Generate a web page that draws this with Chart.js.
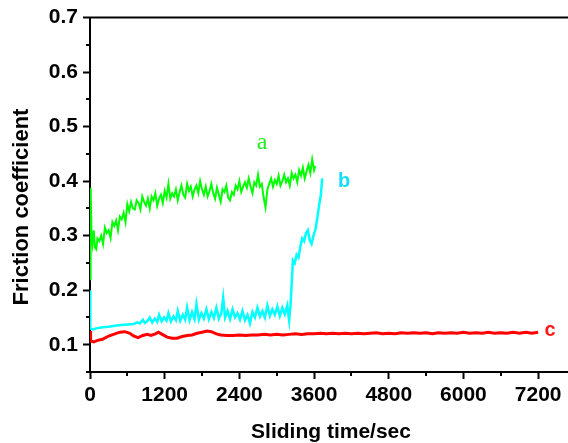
<!DOCTYPE html>
<html>
<head>
<meta charset="utf-8">
<script src="https://cdn.jsdelivr.net/npm/chart.js@4/dist/chart.umd.min.js"></script>
<style>
  body { margin: 0; background: #fff; }
  .chart-container { width: 568px; height: 443px; }
</style>
</head>
<body>
<div class="chart-container">
  <canvas id="chart" width="568" height="443"></canvas>
</div>
<script>
// curve a (green)
const aTime = [0, 10, 25, 40, 60, 80, 100, 120, 150, 180, 210, 240, 270, 300, 330, 360, 390, 420, 450, 480,
  510, 540, 570, 600, 630, 660, 690, 720, 750, 780, 810, 840, 870, 900, 930, 960, 990, 1020, 1050, 1080,
  1110, 1140, 1170, 1200, 1230, 1260, 1290, 1320, 1350, 1380, 1410, 1440, 1470, 1500, 1530, 1560, 1590, 1620, 1650, 1680,
  1710, 1740, 1770, 1800, 1830, 1860, 1890, 1920, 1950, 1980, 2010, 2040, 2070, 2100, 2130, 2160, 2190, 2220, 2250, 2280,
  2310, 2340, 2370, 2400, 2430, 2460, 2490, 2520, 2550, 2580, 2610, 2640, 2670, 2700, 2730, 2760, 2790, 2820, 2850, 2880,
  2910, 2940, 2970, 3000, 3030, 3060, 3090, 3120, 3150, 3180, 3210, 3240, 3270, 3300, 3330, 3360, 3390, 3420, 3450, 3480,
  3510, 3540, 3570, 3600, 3620];
const aFriction = [0.22, 0.388, 0.30, 0.285, 0.31, 0.278, 0.275, 0.295, 0.29, 0.30, 0.285, 0.315, 0.305, 0.31, 0.296, 0.325, 0.318, 0.328, 0.31, 0.335,
  0.33, 0.342, 0.325, 0.358, 0.345, 0.362, 0.35, 0.348, 0.365, 0.36, 0.348, 0.372, 0.362, 0.355, 0.368, 0.35, 0.372, 0.365, 0.378, 0.355,
  0.368, 0.375, 0.36, 0.382, 0.37, 0.395, 0.368, 0.378, 0.372, 0.385, 0.365, 0.38, 0.392, 0.375, 0.37, 0.395, 0.382, 0.39, 0.372, 0.385,
  0.392, 0.378, 0.40, 0.385, 0.375, 0.39, 0.372, 0.382, 0.395, 0.378, 0.368, 0.388, 0.375, 0.362, 0.385, 0.38, 0.392, 0.37, 0.365, 0.38,
  0.375, 0.392, 0.385, 0.40, 0.38, 0.39, 0.398, 0.388, 0.405, 0.39, 0.378, 0.398, 0.392, 0.412, 0.39, 0.395, 0.37, 0.352, 0.385, 0.395,
  0.405, 0.39, 0.402, 0.395, 0.41, 0.392, 0.40, 0.412, 0.398, 0.405, 0.392, 0.415, 0.405, 0.412, 0.398, 0.42, 0.41, 0.425, 0.405, 0.418,
  0.43, 0.415, 0.44, 0.42, 0.428];

// curve b (cyan)
const bTime = [0, 5, 40, 100, 200, 300, 400, 500, 600, 700, 760, 800, 850, 880, 920, 960, 1000, 1040, 1080, 1110,
  1150, 1190, 1230, 1260, 1300, 1340, 1380, 1410, 1450, 1490, 1530, 1560, 1600, 1640, 1680, 1710, 1750, 1790, 1830, 1870,
  1910, 1950, 1990, 2030, 2070, 2110, 2140, 2170, 2210, 2250, 2290, 2330, 2370, 2410, 2450, 2490, 2530, 2570, 2610, 2650,
  2690, 2730, 2770, 2810, 2850, 2890, 2930, 2970, 3010, 3050, 3090, 3130, 3170, 3200, 3220, 3240, 3260, 3290, 3320, 3350,
  3380, 3410, 3440, 3470, 3500, 3530, 3560, 3590, 3620, 3650, 3680, 3710, 3730];
const bFriction = [0.20, 0.13, 0.128, 0.13, 0.132, 0.133, 0.135, 0.136, 0.137, 0.138, 0.141, 0.139, 0.146, 0.14, 0.143, 0.15, 0.141, 0.148, 0.142, 0.155,
  0.143, 0.15, 0.144, 0.158, 0.143, 0.152, 0.145, 0.162, 0.144, 0.155, 0.146, 0.168, 0.145, 0.16, 0.147, 0.175, 0.146, 0.158, 0.148, 0.165,
  0.147, 0.16, 0.149, 0.168, 0.148, 0.158, 0.186, 0.15, 0.162, 0.147, 0.165, 0.15, 0.158, 0.146, 0.162, 0.145, 0.155, 0.139, 0.16, 0.15,
  0.168, 0.152, 0.162, 0.15, 0.172, 0.153, 0.165, 0.155, 0.17, 0.153, 0.168, 0.156, 0.172, 0.145, 0.17, 0.21, 0.255, 0.25, 0.265, 0.26,
  0.28, 0.295, 0.29, 0.305, 0.31, 0.292, 0.285, 0.30, 0.31, 0.33, 0.355, 0.375, 0.405];

// curve c (red)
const cTime = [0, 10, 60, 120, 200, 300, 400, 480, 560, 640, 700, 770, 850, 920, 980, 1050, 1100, 1160, 1240, 1320,
  1400, 1480, 1560, 1640, 1720, 1800, 1880, 1950, 2030, 2100, 2200, 2300, 2400, 2500, 2600, 2700, 2800, 2900, 3000, 3100,
  3200, 3300, 3400, 3500, 3600, 3700, 3800, 3900, 4000, 4100, 4200, 4300, 4400, 4500, 4600, 4700, 4800, 4900, 5000, 5100,
  5200, 5300, 5400, 5500, 5600, 5700, 5800, 5900, 6000, 6100, 6200, 6300, 6400, 6500, 6600, 6700, 6800, 6900, 7000, 7100, 7200];
const cFriction = [0.125, 0.107, 0.105, 0.108, 0.11, 0.116, 0.12, 0.123, 0.124, 0.121, 0.116, 0.113, 0.117, 0.119, 0.117, 0.12, 0.123, 0.119, 0.114, 0.112,
  0.112, 0.115, 0.117, 0.118, 0.121, 0.123, 0.125, 0.124, 0.12, 0.118, 0.117, 0.117, 0.118, 0.117, 0.118, 0.118, 0.119, 0.118, 0.119, 0.118,
  0.119, 0.12, 0.119, 0.12, 0.12, 0.121, 0.12, 0.121, 0.12, 0.121, 0.12, 0.121, 0.12, 0.121, 0.122, 0.12, 0.121, 0.12, 0.122, 0.121,
  0.122, 0.121, 0.122, 0.12, 0.122, 0.121, 0.122, 0.121, 0.123, 0.121, 0.122, 0.121, 0.123, 0.121, 0.122, 0.121, 0.123, 0.121, 0.123, 0.121, 0.123];

const xTicks = [0, 1200, 2400, 3600, 4800, 6000, 7200];
const yTicks = [0.1, 0.2, 0.3, 0.4, 0.5, 0.6, 0.7];
const xMinor = [600, 1800, 3000, 4200, 5400, 6600];
const yMinor = [0.05, 0.15, 0.25, 0.35, 0.45, 0.55, 0.65];

const toPoints = (xs, ys) => xs.map((x, i) => ({ x: x, y: ys[i] }));

const FONT = 'Arial, "Liberation Sans", sans-serif';

// frame top line, minor ticks, titles and curve letters
const decorations = {
  id: 'decorations',
  afterDraw(chart) {
    const ctx = chart.ctx;
    const area = chart.chartArea;
    const xs = chart.scales.x, ys = chart.scales.y;
    ctx.save();
    ctx.strokeStyle = '#000000';
    ctx.lineWidth = 2;
    ctx.beginPath();
    ctx.moveTo(area.left - 1, area.top);
    ctx.lineTo(area.right, area.top);
    xMinor.forEach(v => {
      const px = Math.round(xs.getPixelForValue(v));
      ctx.moveTo(px, area.bottom);
      ctx.lineTo(px, area.bottom + 4);
    });
    yMinor.forEach(v => {
      const py = Math.round(ys.getPixelForValue(v));
      ctx.moveTo(area.left, py);
      ctx.lineTo(area.left - 4, py);
    });
    ctx.stroke();

    ctx.fillStyle = '#000';
    ctx.font = 'bold 21px ' + FONT;
    ctx.textAlign = 'center';
    ctx.textBaseline = 'alphabetic';
    ctx.fillText('Sliding time/sec', 331, 438);
    ctx.save();
    ctx.translate(28, 207);
    ctx.rotate(-Math.PI / 2);
    ctx.font = 'bold 22px ' + FONT;
    ctx.fillText('Friction coefficient', 0, 0);
    ctx.restore();

    ctx.textBaseline = 'middle';
    ctx.font = '24px "Liberation Serif", serif';
    ctx.fillStyle = '#22ee22';
    ctx.fillText('a', xs.getPixelForValue(2764), ys.getPixelForValue(0.471));
    ctx.font = 'bold 20px ' + FONT;
    ctx.fillStyle = '#11ddff';
    ctx.fillText('b', xs.getPixelForValue(4082), ys.getPixelForValue(0.40));
    ctx.fillStyle = '#ff1a1a';
    ctx.fillText('c', xs.getPixelForValue(7392), ys.getPixelForValue(0.126));
    ctx.restore();
  }
};

new Chart(document.getElementById('chart'), {
  type: 'line',
  data: {
    datasets: [
      { label: 'c', data: toPoints(cTime, cFriction), borderColor: '#ff0000', borderWidth: 3 },
      { label: 'b', data: toPoints(bTime, bFriction), borderColor: '#00ffff', borderWidth: 2.5 },
      { label: 'a', data: toPoints(aTime, aFriction), borderColor: '#00ff00', borderWidth: 2 },
    ],
  },
  options: {
    responsive: false,
    animation: false,
    layout: { padding: { top: 16, right: 0, left: 0, bottom: 0 } },
    elements: { point: { radius: 0 }, line: { tension: 0 } },
    plugins: { legend: { display: false }, tooltip: { enabled: false } },
    scales: {
      x: {
        type: 'linear',
        min: 0,
        max: 7680,
        afterBuildTicks: (scale) => { scale.ticks = xTicks.map(v => ({ value: v })); },
        afterFit: (scale) => { scale.height = 71; },
        grid: { display: true, drawOnChartArea: false, drawTicks: true, tickLength: 7, tickWidth: 2, tickColor: '#000' },
        border: { display: true, color: '#000', width: 2 },
        ticks: {
          color: '#000', padding: 4, maxRotation: 0, autoSkip: false,
          font: { family: FONT, size: 21, weight: 'bold' },
          callback: (v) => String(v),
        },
      },
      y: {
        min: 0.05,
        max: 0.7,
        afterBuildTicks: (scale) => { scale.ticks = yTicks.map(v => ({ value: v })); },
        afterFit: (scale) => { scale.width = 90; },
        grid: { display: true, drawOnChartArea: false, drawTicks: true, tickLength: 7, tickWidth: 2, tickColor: '#000' },
        border: { display: true, color: '#000', width: 2 },
        ticks: {
          color: '#000', padding: 5, autoSkip: false,
          font: { family: FONT, size: 21, weight: 'bold' },
          callback: (v) => Number(v).toFixed(1),
        },
      },
    },
  },
  plugins: [decorations],
});
</script>
</body>
</html>
